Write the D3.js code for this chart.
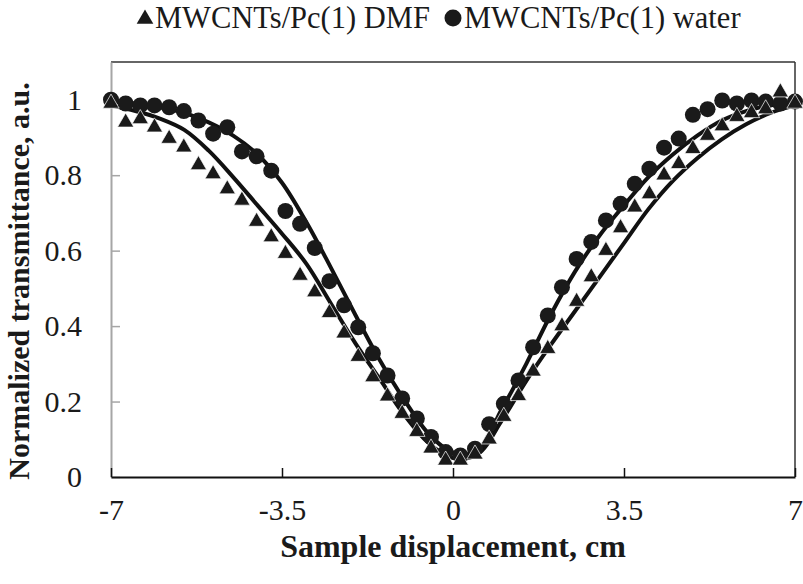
<!DOCTYPE html>
<html>
<head>
<meta charset="utf-8">
<script src="https://cdn.jsdelivr.net/npm/d3@7"></script>
<style>
  body { margin: 0; background: #fff; }
  text { font-family: "Liberation Serif", "Times New Roman", serif; fill: #1a1a1a; }
</style>
</head>
<body>
<div id="chart"></div>
<script>
// sample positions (cm), shared by both measured series
var positions = [-7, -6.70, -6.40, -6.11, -5.81, -5.51, -5.21, -4.91, -4.62, -4.32, -4.02, -3.72,
  -3.43, -3.13, -2.83, -2.53, -2.23, -1.94, -1.64, -1.34, -1.04, -0.74, -0.45, -0.15,
  0.15, 0.45, 0.74, 1.04, 1.34, 1.64, 1.94, 2.23, 2.53, 2.83, 3.13, 3.43,
  3.72, 4.02, 4.32, 4.62, 4.91, 5.21, 5.51, 5.81, 6.11, 6.40, 6.70, 7];

// MWCNTs/Pc(1) DMF (triangles)
var dmfValues = [0.99, 0.94, 0.949, 0.927, 0.897, 0.874, 0.827, 0.803, 0.763, 0.733, 0.677, 0.636,
  0.592, 0.534, 0.49, 0.435, 0.381, 0.319, 0.265, 0.214, 0.168, 0.12, 0.076, 0.044,
  0.044, 0.06, 0.10, 0.16, 0.215, 0.28, 0.34, 0.40, 0.465, 0.53, 0.60, 0.66,
  0.715, 0.75, 0.80, 0.83, 0.87, 0.905, 0.93, 0.955, 0.965, 0.975, 1.02, 0.99];

// MWCNTs/Pc(1) water (circles)
var waterValues = [1.0, 0.99, 0.985, 0.985, 0.98, 0.97, 0.945, 0.91, 0.927, 0.863, 0.85, 0.812,
  0.705, 0.671, 0.607, 0.519, 0.455, 0.397, 0.328, 0.269, 0.208, 0.155, 0.106, 0.066,
  0.057, 0.075, 0.14, 0.194, 0.256, 0.344, 0.428, 0.503, 0.578, 0.623, 0.68, 0.724,
  0.777, 0.817, 0.873, 0.897, 0.96, 0.975, 0.998, 0.99, 0.998, 0.995, 0.99, 0.995];

// fitted curves, read at every 0.5 cm
var fitPositions = [-7, -6.5, -6, -5.5, -5, -4.5, -4, -3.5, -3, -2.5, -2, -1.5, -1, -0.5, 0,
  0.5, 1, 1.5, 2, 2.5, 3, 3.5, 4, 4.5, 5, 5.5, 6, 6.5, 7];
var dmfFit = [0.985, 0.97, 0.95, 0.92, 0.865, 0.795, 0.72, 0.645, 0.565, 0.46, 0.355, 0.26, 0.165, 0.09, 0.05,
  0.06, 0.15, 0.255, 0.35, 0.44, 0.53, 0.62, 0.71, 0.785, 0.845, 0.895, 0.935, 0.965, 0.985];
var waterFit = [0.995, 0.99, 0.98, 0.965, 0.94, 0.905, 0.855, 0.78, 0.675, 0.555, 0.43, 0.31, 0.205, 0.115, 0.065,
  0.07, 0.18, 0.30, 0.43, 0.545, 0.64, 0.72, 0.795, 0.855, 0.905, 0.945, 0.97, 0.985, 0.99];

var xTicks = [-7, -3.5, 0, 3.5, 7];
var yTicks = [0, 0.2, 0.4, 0.6, 0.8, 1];
var seriesNames = ["MWCNTs/Pc(1) DMF", "MWCNTs/Pc(1) water"];

var width = 803, height = 584;
var margin = {top: 62, right: 8, bottom: 107, left: 111};

var svg = d3.select("#chart").append("svg")
    .attr("width", width)
    .attr("height", height);

var x = d3.scaleLinear().domain([-7, 7]).range([margin.left, width - margin.right]);
var y = d3.scaleLinear().domain([0, 1.1]).range([height - margin.bottom, margin.top]);

var ink = "#1a1a1a";

// plot frame: top and right lines
svg.append("line")
    .attr("x1", x(-7)).attr("x2", x(7))
    .attr("y1", y(1.1)).attr("y2", y(1.1))
    .attr("stroke", "#333").attr("stroke-width", 1.5);
svg.append("line")
    .attr("x1", x(7)).attr("x2", x(7))
    .attr("y1", y(1.1)).attr("y2", y(0))
    .attr("stroke", "#333").attr("stroke-width", 1.5);

// y axis
var yAxis = svg.append("g")
    .attr("transform", "translate(" + x(-7) + ",0)")
    .call(d3.axisLeft(y).tickValues(yTicks).tickSizeInner(-9).tickSizeOuter(0)
      .tickPadding(29).tickFormat(function(d) { return String(d); }));
yAxis.select(".domain").attr("stroke", "#a6a6a6").attr("stroke-width", 2);
yAxis.selectAll(".tick line").attr("stroke", "#a6a6a6").attr("stroke-width", 1.5);
yAxis.selectAll(".tick text").attr("font-size", 30).attr("font-family", "Liberation Serif").attr("fill", ink);

// x axis
var xAxis = svg.append("g")
    .attr("transform", "translate(0," + y(0) + ")")
    .call(d3.axisBottom(x).tickValues(xTicks).tickSizeInner(-9).tickSizeOuter(0)
      .tickPadding(22).tickFormat(function(d) { return String(d); }));
xAxis.select(".domain").attr("stroke", "#111").attr("stroke-width", 2);
xAxis.selectAll(".tick line").attr("stroke", "#111").attr("stroke-width", 1.5);
xAxis.selectAll(".tick text").attr("font-size", 30).attr("font-family", "Liberation Serif").attr("fill", ink);

// fitted lines
var line = d3.line()
    .x(function(d) { return x(d[0]); })
    .y(function(d) { return y(d[1]); })
    .curve(d3.curveCatmullRom);

[dmfFit, waterFit].forEach(function(vals) {
  svg.append("path")
      .datum(fitPositions.map(function(p, i) { return [p, vals[i]]; }))
      .attr("d", line)
      .attr("fill", "none")
      .attr("stroke", "#111")
      .attr("stroke-width", 4);
});

// water circles
svg.selectAll("circle.water")
    .data(positions.map(function(p, i) { return [p, waterValues[i]]; }))
    .enter().append("circle")
      .attr("class", "water")
      .attr("cx", function(d) { return x(d[0]); })
      .attr("cy", function(d) { return y(d[1]); })
      .attr("r", 8)
      .attr("fill", ink);

// DMF triangles
var tri = d3.symbol().type(d3.symbolTriangle).size(115);
svg.selectAll("path.dmf")
    .data(positions.map(function(p, i) { return [p, dmfValues[i]]; }))
    .enter().append("path")
      .attr("class", "dmf")
      .attr("d", tri)
      .attr("transform", function(d) { return "translate(" + x(d[0]) + "," + y(d[1]) + ")"; })
      .attr("fill", ink)
      .attr("stroke", "#fff")
      .attr("stroke-width", 0.7);

// axis titles
svg.append("text")
    .attr("x", (x(-7) + x(7)) / 2)
    .attr("y", 557)
    .attr("text-anchor", "middle")
    .attr("font-size", 32)
    .attr("font-weight", "bold")
    .text("Sample displacement, cm");

svg.append("text")
    .attr("transform", "translate(29,281) rotate(-90)")
    .attr("text-anchor", "middle")
    .attr("font-size", 30)
    .attr("font-weight", "bold")
    .text("Normalized transmittance, a.u.");

// legend
var legend = svg.append("g");
legend.append("path")
    .attr("d", d3.symbol().type(d3.symbolTriangle).size(120))
    .attr("transform", "translate(145,19)")
    .attr("fill", ink);
legend.append("text")
    .attr("x", 155).attr("y", 28)
    .attr("font-size", 30.5)
    .text(seriesNames[0]);
legend.append("circle")
    .attr("cx", 453).attr("cy", 18).attr("r", 8.5)
    .attr("fill", ink);
legend.append("text")
    .attr("x", 464).attr("y", 28)
    .attr("font-size", 30.5)
    .text(seriesNames[1]);
</script>
</body>
</html>
